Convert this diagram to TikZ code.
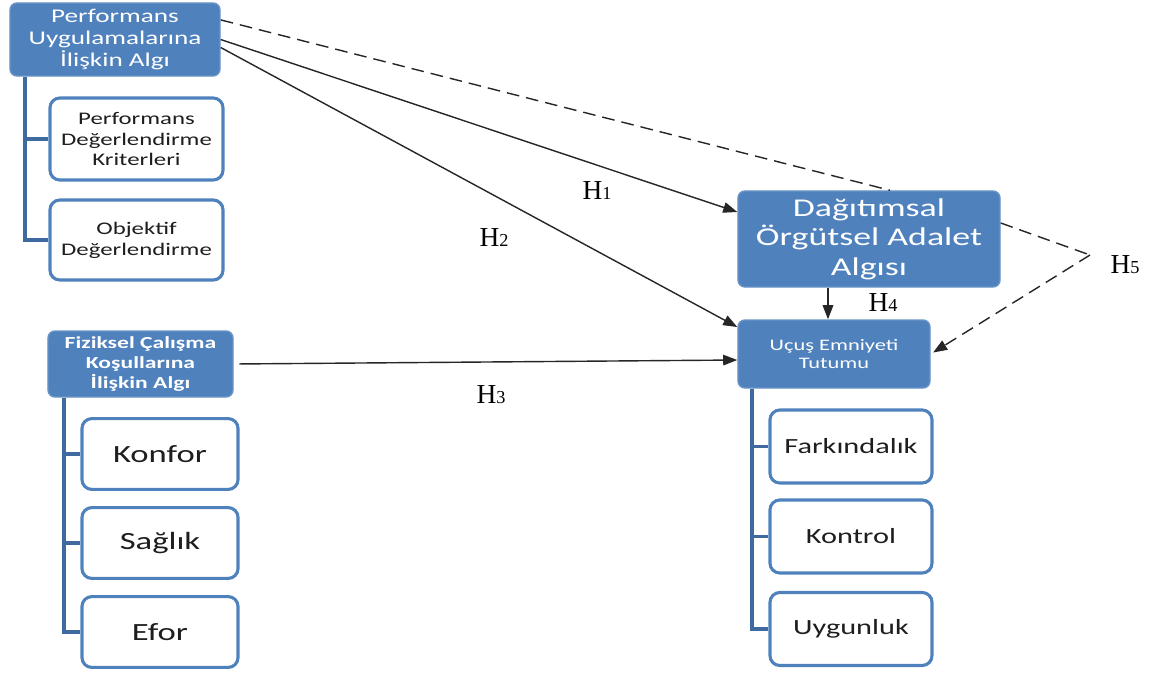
\documentclass[tikz,border=0pt]{standalone}
\usepackage{fontspec}
\setmainfont{Carlito}[FakeStretch=1.4]
\newfontfamily\hfont{Liberation Serif}
\usetikzlibrary{positioning}
\usetikzlibrary{arrows.meta}
\usetikzlibrary{backgrounds}
\definecolor{boxblue}{HTML}{4F81BD}
\definecolor{linkblue}{HTML}{3E6AA0}
\definecolor{txtgray}{HTML}{1E1E1E}
\tikzset{
  mainbox/.style={rectangle, rounded corners=5pt, fill=boxblue, draw=boxblue!85!white, line width=1pt, text=white, align=center, inner sep=2pt},
  subbox/.style={rectangle, rounded corners=7pt, fill=white, draw=boxblue, line width=2.2pt, text=txtgray, align=center, inner sep=2pt},
  bracket/.style={draw=linkblue, line width=2.6pt},
  arr/.style={-{Triangle[length=10pt,width=7.5pt]}, line width=1pt, black!85},
  dashline/.style={line width=1pt, black!85, dash pattern=on 9pt off 5pt},
  hyp/.style={font=\hfont\fontsize{19.5}{20}\selectfont, inner sep=1pt},
}
\newcommand{\hlab}[1]{H{\fontsize{13}{13}\selectfont #1}}

\begin{document}
\begin{tikzpicture}[x=0.025cm, y=-0.025cm]
        \useasboundingbox (0,0) rectangle (1152,673);

        % Bağımsız değişkenler
        \node[mainbox, minimum width=5.25cm, minimum height=1.825cm, font=\fontsize{13.8}{15.8}\selectfont] (pua) at (115,39.5) {Performans\\Uygulamalarına\\İlişkin Algı};
        \node[subbox, minimum width=4.325cm, minimum height=2.05cm, font=\fontsize{12.6}{14.8}\selectfont] (pdk) at (136.5,139) {Performans\\Değerlendirme\\Kriterleri};
        \node[subbox, minimum width=4.325cm, minimum height=2.0cm, font=\fontsize{12.6}{14.8}\selectfont] (od) at (136.5,240) {Objektif\\Değerlendirme};

        \node[mainbox, minimum width=4.625cm, minimum height=1.65cm, font=\bfseries\fontsize{12}{14.2}\selectfont] (fck) at (140.5,364) {Fiziksel Çalışma\\Koşullarına\\İlişkin Algı};
        \foreach \pos/\name/\txt in {{(160,454)/konfor/Konfor}, {(160,543)/saglik/Sağlık}, {(160,632)/efor/Efor}}
            \node[subbox, minimum width=3.9cm, minimum height=1.77cm, font=\fontsize{17.6}{20}\selectfont] (\name) at \pos {\txt};

        % Aracı ve bağımlı değişkenler
        \node[mainbox, minimum width=6.55cm, minimum height=2.4cm, font=\fontsize{18.2}{21}\selectfont] (doa) at (869,239) {Dağıtımsal\\Örgütsel Adalet\\Algısı};
        \node[mainbox, minimum width=4.8cm, minimum height=1.7cm, font=\fontsize{11.4}{13}\selectfont] (uet) at (834,354) {Uçuş Emniyeti\\Tutumu};
        \foreach \pos/\name/\txt in {{(851,446.5)/fark/Farkındalık}, {(851,536.5)/kontrol/Kontrol}, {(851,629)/uygun/Uygunluk}}
            \node[subbox, minimum width=4.05cm, minimum height=1.825cm, font=\fontsize{15.4}{17}\selectfont] (\name) at \pos {\txt};

        \coordinate (h5turn) at (1090,255);

        % Alt boyut bağlantıları
        \begin{pgfonlayer}{background}
            \foreach \target in {pdk, od}
                \draw[bracket] ([xshift=0.4cm]pua.south west) |- (\target.west);
            \foreach \target in {konfor, saglik, efor}
                \draw[bracket] ([xshift=0.425cm]fck.south west) |- (\target.west);
            \foreach \target in {fark, kontrol, uygun}
                \draw[bracket] ([xshift=0.375cm]uet.south west) |- (\target.west);
        \end{pgfonlayer}

        % Hipotezler
        \draw[arr] (pua.east) -- ([yshift=0.675cm]doa.west);
        \draw[arr] ([yshift=-0.2cm]pua.east) -- ([yshift=0.675cm]uet.west);
        \draw[arr, shorten <=4pt] (fck.east) -- ([yshift=-0.15cm]uet.west);
        \draw[arr] ([xshift=-1.025cm]doa.south) -- ([xshift=-1.025cm]doa.south |- uet.north);
        \draw[dashline] ([yshift=0.49cm]pua.east) -- ([xshift=0.525cm]doa.north);
        \draw[dashline] ([yshift=0.4cm]doa.east) -- (h5turn);
        \draw[arr, dashline, shorten >=2pt] (h5turn) -- (uet.east);

        \node[hyp] (lblh1) at (597,191) {\hlab{1}};
        \node[hyp] (lblh2) at (494,238) {\hlab{2}};
        \node[hyp] (lblh3) at (491,395) {\hlab{3}};
        \node[hyp] (lblh4) at (883,303) {\hlab{4}};
        \node[hyp] (lblh5) at (1125,265) {\hlab{5}};

\end{tikzpicture}
\end{document}
